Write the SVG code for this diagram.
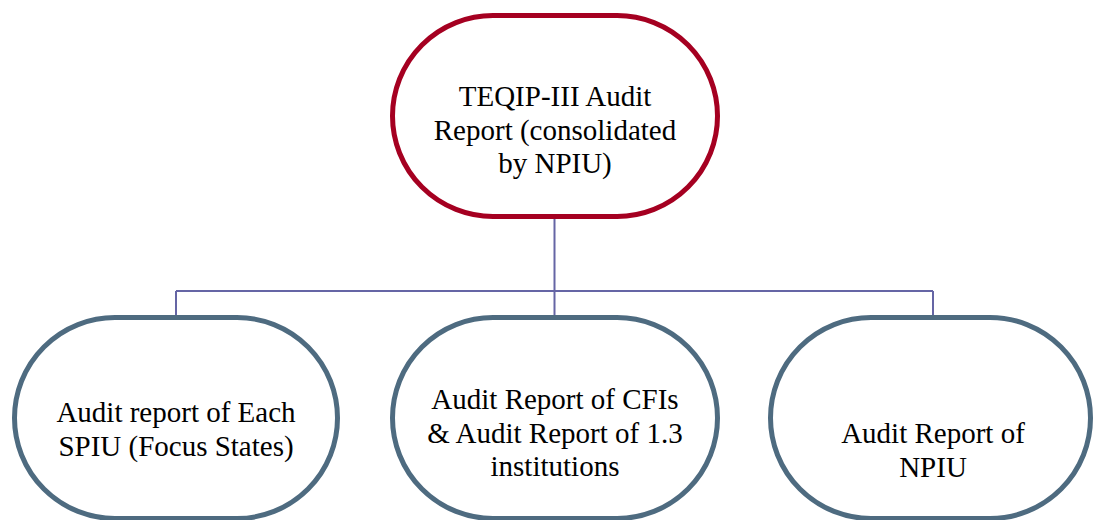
<svg xmlns="http://www.w3.org/2000/svg" width="1094" height="520" viewBox="0 0 1094 520">
<style>
.bg{fill:#ffffff}
.top{fill:#ffffff;stroke:#A50021;stroke-width:5}
.leaf{fill:#ffffff;stroke:#4E6B80;stroke-width:5}
.conn{fill:none;stroke:#6565A5;stroke-width:2}
text{font-family:'Liberation Serif',Tinos,'Times New Roman','DejaVu Serif',serif;font-size:29px;fill:#000000;text-anchor:middle}
</style>
<rect class="bg" x="0" y="0" width="1094" height="520"/>
<g id="connectors">
<path class="conn" d="M554.5 217 V291"/>
<path class="conn" d="M176 291 H933"/>
<path class="conn" d="M176 291 V316"/>
<path class="conn" d="M554.5 291 V316"/>
<path class="conn" d="M933 291 V316"/>
</g>
<g id="node-top">
<rect class="top" x="392.5" y="15.5" width="325" height="201" rx="100.5" ry="100.5"/>
<text x="555" y="106">TEQIP-III Audit</text>
<text x="555" y="140">Report (consolidated</text>
<text x="555" y="173">by NPIU)</text>
</g>
<g id="node-spiu">
<rect class="leaf" x="14.5" y="317.5" width="323" height="201" rx="100.5" ry="100.5"/>
<text x="176" y="422">Audit report of Each</text>
<text x="176" y="456">SPIU (Focus States)</text>
</g>
<g id="node-cfi">
<rect class="leaf" x="392.5" y="317.5" width="325" height="201" rx="100.5" ry="100.5"/>
<text x="555" y="409">Audit Report of CFIs</text>
<text x="555" y="443">&amp; Audit Report of 1.3</text>
<text x="555" y="476">institutions</text>
</g>
<g id="node-npiu">
<rect class="leaf" x="770.5" y="317.5" width="320" height="201" rx="100.5" ry="100.5"/>
<text x="933" y="443">Audit Report of</text>
<text x="933" y="477">NPIU</text>
</g>
</svg>
